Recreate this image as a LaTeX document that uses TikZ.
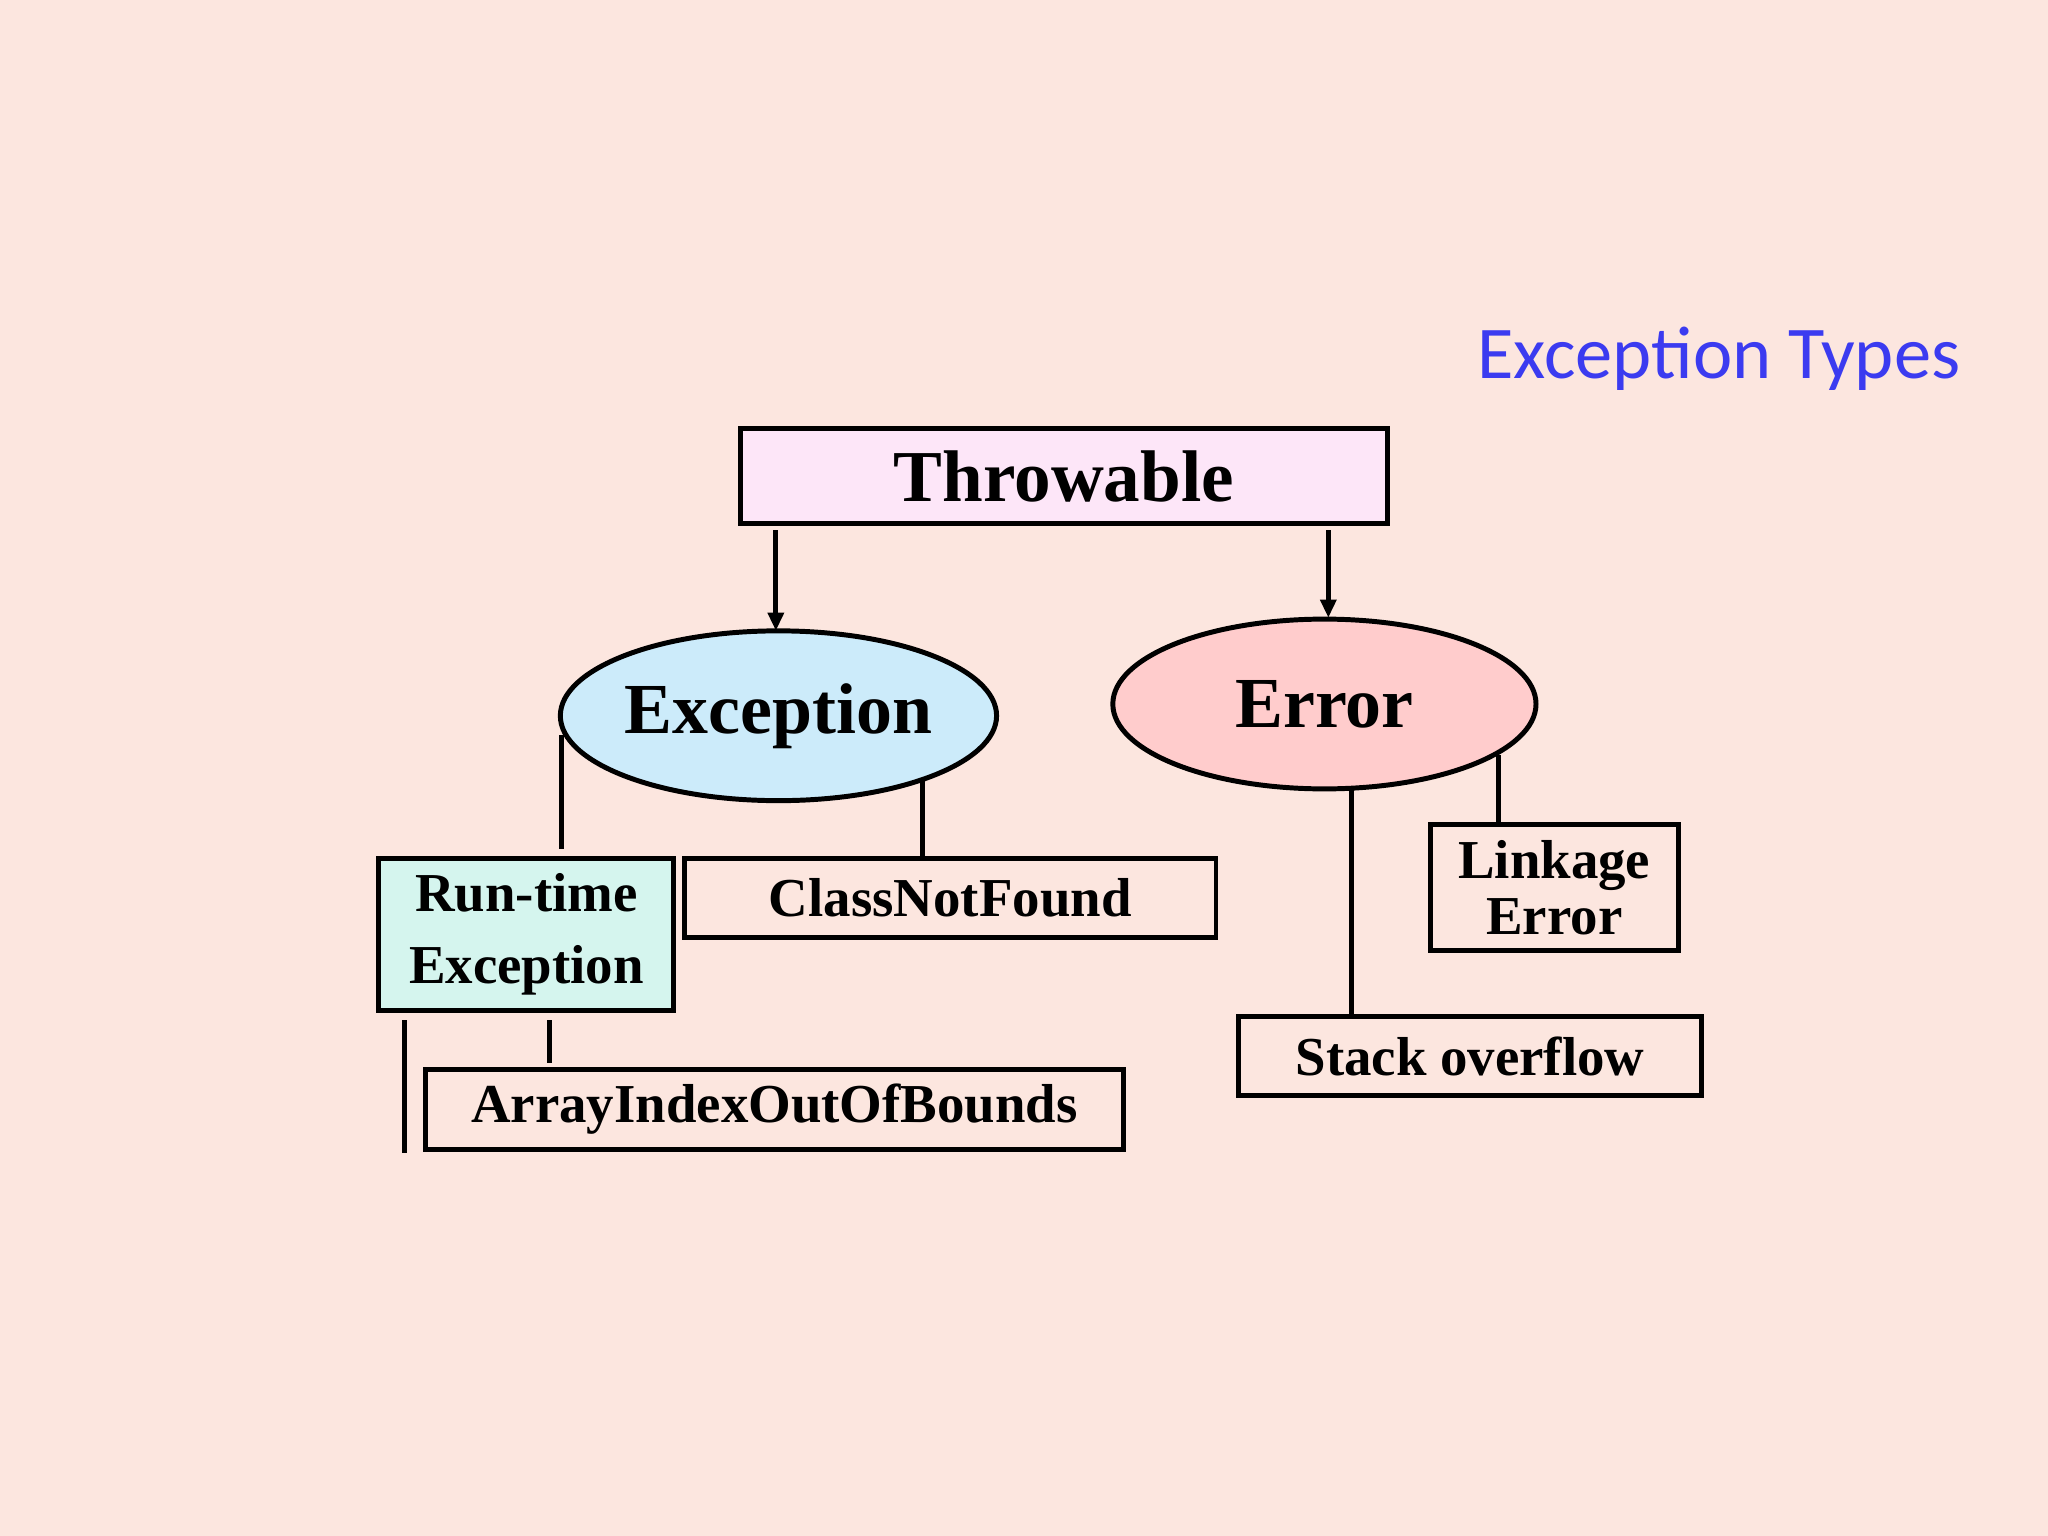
\documentclass[tikz,border=0pt]{standalone}
\usepackage{fontspec}
\setmainfont{Liberation Serif}
\newfontfamily\titlefont{Carlito}
\usetikzlibrary{shapes.geometric,arrows.meta}
\definecolor{bg}{HTML}{FCE6DF}
\definecolor{pinkbox}{HTML}{FDE6F8}
\definecolor{blueell}{HTML}{CCEBFA}
\definecolor{redell}{HTML}{FFCCCC}
\definecolor{greenbox}{HTML}{D5F5EE}
\definecolor{titleblue}{HTML}{3B3BF0}
\begin{document}
\begin{tikzpicture}[x=0.5pt,y=-0.5pt,
  bx/.style={draw,line width=1.9pt,inner sep=0pt,font=\bfseries},
  ln/.style={line width=1.9pt},
  sm/.style={font=\bfseries\fontsize{21}{24}\selectfont},
  ar/.style={line width=1.9pt,-{Triangle[length=7pt,width=6pt]}}]
\fill[bg] (0,0) rectangle (1568,1176);
\node[text=titleblue,font=\titlefont\fontsize{28.5}{32}\selectfont] (title) at (1316,275) {Exception Types};
\node[bx,fill=pinkbox,minimum width=247.5pt,minimum height=36.5pt,font=\bfseries\fontsize{28}{30}\selectfont] (thr) at (814.5,364.5) {Throwable};
\node[bx,ellipse,fill=blueell,minimum width=167pt,minimum height=65pt,font=\bfseries\fontsize{27.5}{30}\selectfont] (exc) at (596,548) {Exception};
\node[bx,ellipse,fill=redell,minimum width=162pt,minimum height=65pt,font=\bfseries\fontsize{27.5}{30}\selectfont] (err) at (1014,539) {Error};
\node[bx,fill=greenbox,minimum width=113pt,minimum height=58.5pt,align=center,font=\bfseries\fontsize{21}{27.5}\selectfont] (rt) at (403,715.5) {Run-time\\Exception};
\node[bx,sm,minimum width=203.5pt,minimum height=30.5pt] (cnf) at (727.5,687.5) {ClassNotFound};
\node[bx,sm,minimum width=267pt,minimum height=30.5pt] (aio) at (593,849.5) {ArrayIndexOutOfBounds};
\node[bx,minimum width=95pt,minimum height=48.5pt,align=center,font=\bfseries\fontsize{21}{21.5}\selectfont] (lnk) at (1190,679.5) {Linkage\\Error};
\node[bx,sm,minimum width=177.5pt,minimum height=30.5pt] (so) at (1125.5,808.5) {Stack overflow};
\coordinate (a1) at (594,406); \coordinate (a2) at (1017,406);
\draw[ar] (a1) -- (594,483);
\draw[ar] (a2) -- (1017,473);
\draw[ln] (430,563) -- (430,650);
\draw[ln] (706,598) -- (706,656);
\draw[ln] (310,781) -- (310,883);
\draw[ln] (421,781) -- (421,814);
\draw[ln] (1035,604) -- (1035,777);
\draw[ln] (1147,578) -- (1147,630);
\end{tikzpicture}
\end{document}
